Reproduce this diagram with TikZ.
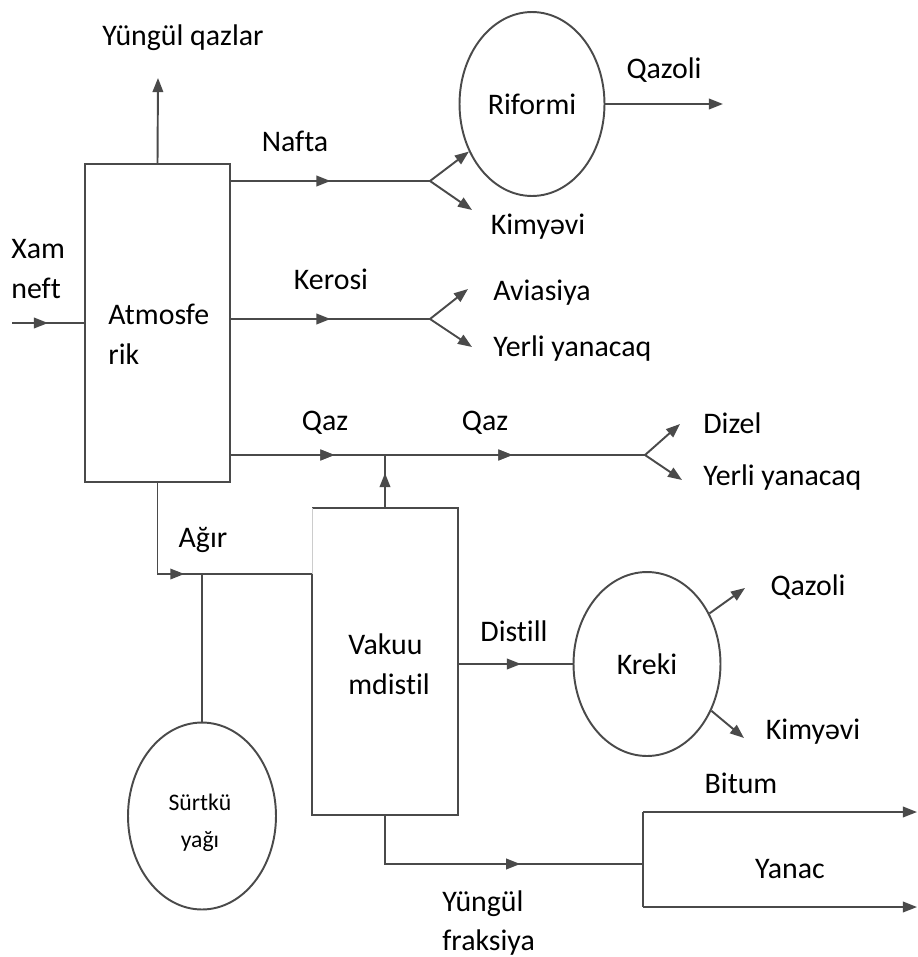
\documentclass[tikz,border=0pt]{standalone}
\usepackage{fontspec}
\setmainfont{Carlito}[Ligatures=NoCommon]
\usetikzlibrary{shapes.geometric,arrows.meta,decorations.markings}

\definecolor{linegray}{HTML}{4A4A4A}

\tikzset{
    flow/.style={draw=linegray, line width=1.1pt},
    tip/.style={-{Triangle[length=8pt,width=6pt]}},
    midtip/.style={postaction={decorate}, decoration={markings,
        mark=at position #1 with {\arrow{Triangle[length=8pt,width=6pt]}}}},
    lbl/.style={font=\fontsize{17}{22.7}\selectfont, inner sep=0pt, align=left},
    small/.style={font=\fontsize{13.5}{21}\selectfont, inner sep=0pt, align=center},
    unit/.style={draw=linegray, line width=1.1pt, rectangle, inner sep=0pt},
    vessel/.style={draw=linegray, line width=1.1pt, ellipse, inner sep=0pt},
}

\begin{document}
\begin{tikzpicture}[x=0.02cm, y=-0.02cm]
        \useasboundingbox (0,0) rectangle (917,957);

        % Units
        \node[unit, minimum width=2.9cm, minimum height=6.36cm] (atm) at (157.5,323) {};
        \node[vessel, minimum width=2.9cm, minimum height=3.68cm, lbl] (rif) at (532,104) {Riformi};
        \node[vessel, minimum width=2.94cm, minimum height=3.68cm, lbl] (kre) at (647,664) {Kreki};
        \node[vessel, minimum width=2.96cm, minimum height=3.74cm] (srt) at (202,816) {};
        \node[small] at (200,823) {Sürtkü\\yağı};

        % Vacuum column (left edge faint above the feed)
        \coordinate (vtl) at (312,508);
        \coordinate (vtr) at (458,508);
        \coordinate (vbr) at (458,815);
        \coordinate (vbl) at (312,815);
        \coordinate (vml) at (312,574);
        \coordinate (vac) at (385,661.5);
        \draw[flow] (vml) -- (vbl) -- (vbr) -- (vtr) -- (vtl);
        \draw[gray!40, line width=0.5pt] (vtl) -- (vml);

        % Crude feed
        \coordinate (feed) at (12,323);
        \draw[flow, midtip=0.5] (feed) -- (atm.west);
        \node[lbl, anchor=west] at (11,269) {Xam\\neft};
        \node[lbl, anchor=west] at (108,334) {Atmosfe\\rik};

        % Light gases
        \coordinate (lgas) at (158,78);
        \draw[flow, tip] (atm.north) -- (lgas);
        \node[lbl] at (183,38) {Yüngül qazlar};

        % Naphtha
        \coordinate (nfork) at (430,181);
        \coordinate (nchem) at (472,210);
        \draw[flow, midtip=0.5] (atm.east |- nfork) -- (nfork);
        \draw[flow, tip] (nfork) -- (rif.217);
        \draw[flow, tip] (nfork) -- (nchem);
        \node[lbl] at (295,141) {Nafta};
        \node[lbl] at (538,227) {Kimyəvi};

        \coordinate (rout) at (723,104);
        \draw[flow, tip] (rif.east) -- (rout);
        \node[lbl] at (664,70) {Qazoli};

        % Kerosene
        \coordinate (kfork) at (430,319);
        \coordinate (kavi) at (468,289);
        \coordinate (kyer) at (472,347);
        \draw[flow, midtip=0.5] (atm.east |- kfork) -- (kfork);
        \draw[flow, tip] (kfork) -- (kavi);
        \draw[flow, tip] (kfork) -- (kyer);
        \node[lbl] at (331,279) {Kerosi};
        \node[lbl, anchor=west] at (493,293) {Aviasiya};
        \node[lbl, anchor=west] at (493,349) {Yerli yanacaq};

        % Gas oil
        \coordinate (qfork) at (645,455);
        \coordinate (qjoin) at (385,455);
        \coordinate (qdiz) at (680,424);
        \coordinate (qyer) at (682,480);
        \draw[flow, midtip=0.25, midtip=0.68] (atm.east |- qfork) -- (qfork);
        \draw[flow, midtip=0.66] (vac |- vtl) -- (qjoin);
        \draw[flow, tip] (qfork) -- (qdiz);
        \draw[flow, tip] (qfork) -- (qyer);
        \node[lbl] at (325,423) {Qaz};
        \node[lbl] at (485,423) {Qaz};
        \node[lbl, anchor=west] at (703,423) {Dizel};
        \node[lbl, anchor=west] at (703,478) {Yerli yanacaq};

        % Heavy residue
        \coordinate (agir) at (202,574);
        \draw[flow, midtip=0.48] (atm.south) |- (vml);
        \draw[flow] (srt.north) -- (agir);
        \node[lbl] at (203,540) {Ağır};
        \node[lbl, anchor=west] at (348,664) {Vakuu\\mdistil};

        % Distillate to cracking
        \draw[flow, midtip=0.55] (vbr |- kre) -- (kre.west);
        \node[lbl] at (514,631) {Distill};
        \coordinate (kqaz) at (745,588);
        \coordinate (kkim) at (744,738);
        \draw[flow, tip] (kre.39) -- (kqaz);
        \draw[flow, tip] (kre.-36) -- (kkim);
        \node[lbl] at (808,587) {Qazoli};
        \node[lbl] at (813,732) {Kimyəvi};

        % Light fraction and fuel
        \coordinate (ytl) at (643,812);
        \coordinate (ybl) at (643,907);
        \coordinate (ymid) at (643,864);
        \coordinate (ytr) at (917,812);
        \coordinate (ybr) at (917,907);
        \draw[flow, midtip=0.6] (vac |- vbl) |- (ymid);
        \draw[flow] (ytl) -- (ybl);
        \draw[flow, tip] (ytl) -- (ytr);
        \draw[flow, tip] (ybl) -- (ybr);
        \node[lbl] at (741,783) {Bitum};
        \node[lbl] at (790,869) {Yanac};
        \node[lbl, anchor=west] at (442,923) {Yüngül\\fraksiya};
\end{tikzpicture}
\end{document}
